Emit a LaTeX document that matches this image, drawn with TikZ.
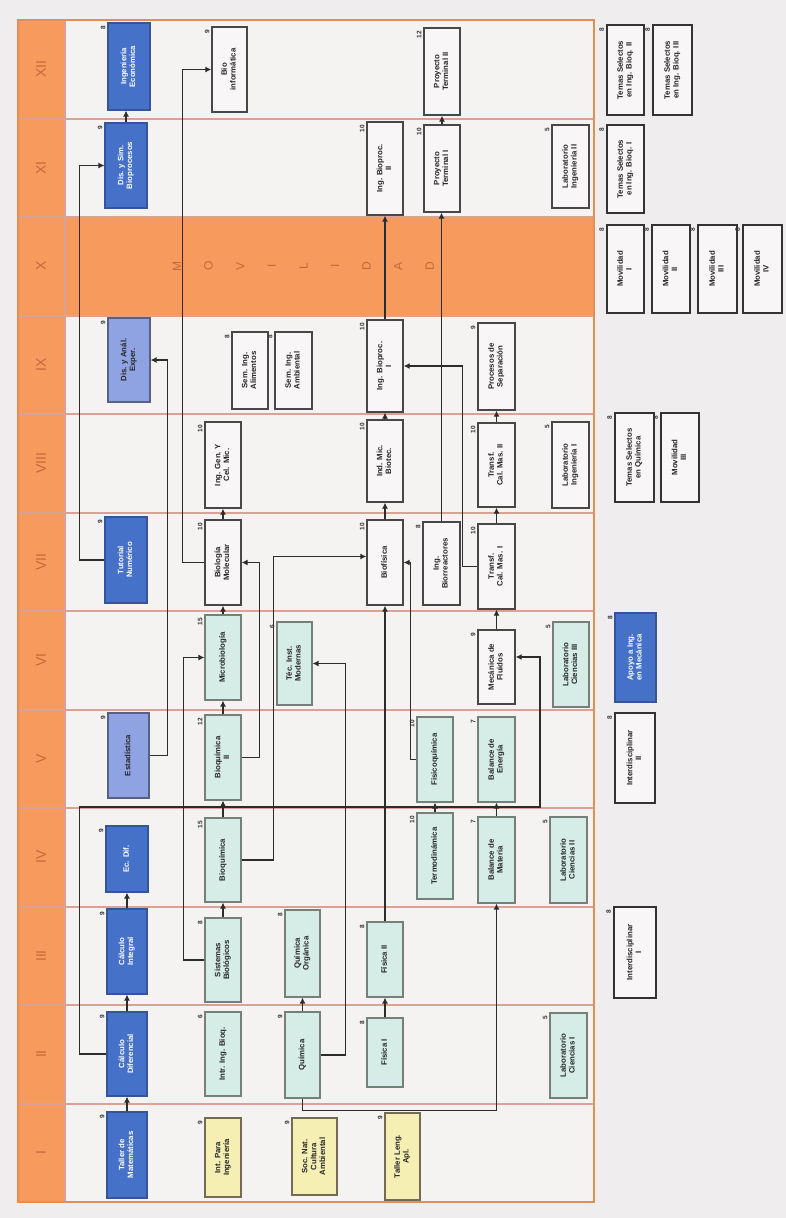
\documentclass[tikz,border=0pt]{standalone}
\usepackage{fontspec}
\setmainfont{Liberation Sans}
\usetikzlibrary{arrows.meta,calc}
\definecolor{bgc}{HTML}{EFEDED}
\definecolor{paper}{HTML}{F5F2F2}
\definecolor{orng}{HTML}{F69A5E}
\definecolor{orngd}{HTML}{C46A3A}
\definecolor{sepc}{HTML}{D9A294}
\definecolor{dblue}{HTML}{4571C9}
\definecolor{lblue}{HTML}{8FA2E2}
\definecolor{cyanb}{HTML}{D6ECE6}
\definecolor{yelb}{HTML}{F6EFB4}
\definecolor{whb}{HTML}{F8F6F6}
\definecolor{lnc}{HTML}{2C2C2C}
\definecolor{cyanl}{HTML}{76807A}
\definecolor{yell}{HTML}{736B55}
\newcommand\rt[1]{\rotatebox{90}{\begin{tabular}{@{}c@{}}#1\end{tabular}}}
\newcommand\bx[8]{%
  \node[box,#6,minimum width={(#4-#2)*1pt},minimum height={(#5-#3)*1pt}] (#1) at ({(#2+#4)/2},{(#3+#5)/2}) {\rt{#7}};
  \node[numl] (#1n) at ([xshift=-1.5pt,yshift=-3pt]#1.north west) {\rotatebox{90}{#8}};}
\tikzset{
  box/.style={rectangle, inner sep=1pt, line width=1.1pt, font=\fontsize{7.8}{8.8}\selectfont\bfseries},
  blueb/.style={fill=dblue, draw=dblue!75!black, text=white},
  perib/.style={fill=lblue, draw=lblue!60!black, text=black!85},
  cyanbx/.style={fill=cyanb, draw=cyanl, text=black!85},
  yelbx/.style={fill=yelb, draw=yell, text=black!85},
  whbx/.style={fill=whb, draw=black!72, line width=1.3pt, text=black!85},
  elect/.style={fill=whb, draw=black!80, line width=2.2pt, text=black!85},
  numl/.style={anchor=north east, inner sep=0.3pt, font=\fontsize{6.5}{6.5}\selectfont\bfseries, text=black!80},
  conn/.style={draw=lnc, line width=1.7pt, -{Latex[length=6pt,width=6pt]}},
  sepl/.style={draw=sepc, line width=2pt},
  romn/.style={font=\fontsize{14}{14}\selectfont, text=orngd, inner sep=0pt},
  movl/.style={font=\fontsize{12}{12}\selectfont, text=orngd, inner sep=0pt}
}
\begin{document}
\begin{tikzpicture}[x=1pt,y=-1pt]
\useasboundingbox (0,0) rectangle (786,1218);
\fill[bgc] (0,0) rectangle (786,1218);
\fill[paper] (18,20) rectangle (594,1202);
\fill[orng] (18,20) rectangle (65,1202);
\fill[orng] (65,217) rectangle (594,315.5);
\foreach \yy in {118.5,217,315.5,414,512.5,611,709.5,808,906.5,1005,1103.5}
  \draw[sepl] (18,\yy) -- (594,\yy);
\draw[sepl] (65,20) -- (65,1202);
\draw[orng!92!black, line width=2.2pt] (18,20) rectangle (594,1202);
\foreach \r/\yy [count=\i] in {I/1153,II/1054,III/956,IV/857,V/759,VI/660,VII/562,VIII/463,IX/365,X/266,XI/168,XII/69}
  \node[romn] (rom\i) at (41,\yy) {\rotatebox{90}{\r}};
\foreach \l [count=\i] in {M,O,V,I,L,I,D,A,D}
  \node[movl] (mv\i) at ({177+(\i-1)*31.6},266) {\rotatebox{90}{\l}};
% Row XII
\bx{IngEcon}{108}{23}{150}{110}{blueb}{Ingeniería\\Económica}{8}
\bx{Bioinf}{212}{27}{247}{112}{whbx}{Bio\\informática}{9}
\bx{ProyII}{424}{28}{460}{115}{whbx}{Proyecto\\Terminal II}{12}
% Row XI
\bx{DisSim}{105}{123}{147}{208}{blueb}{Dis. y Sim.\\Bioprocesos}{9}
\bx{IngBioII}{367}{122}{403}{215}{whbx}{Ing. Bioproc.\\II}{10}
\bx{ProyI}{424}{125}{460}{212}{whbx}{Proyecto\\Terminal I}{10}
\bx{LabI2}{552}{125}{589}{208}{whbx}{Laboratorio\\Ingeniería II}{5}
% Row IX
\bx{DisAnal}{108}{318}{150}{402}{perib}{Dis. y Anál.\\Exper.}{9}
\bx{Sem1}{232}{332}{268}{409}{whbx}{Sem. Ing.\\Alimentos}{8}
\bx{Sem2}{275}{332}{312}{409}{whbx}{Sem. Ing.\\Ambiental}{8}
\bx{IngBioI}{367}{320}{403}{412}{whbx}{Ing. Bioproc.\\I}{10}
\bx{ProcSep}{478}{323}{515}{410}{whbx}{Procesos de\\Separación}{9}
% Row VIII
\bx{IngGen}{205}{422}{241}{508}{whbx}{Ing. Gen. Y\\Cel. Mic.}{10}
\bx{IndMic}{367}{420}{403}{502}{whbx}{Ind. Mic.\\Biotec.}{10}
\bx{TransfII}{478}{423}{515}{507}{whbx}{Transf.\\Cal. Mas. II}{10}
\bx{LabI1}{552}{422}{589}{508}{whbx}{Laboratorio\\Ingeniería I}{5}
% Row VII
\bx{Tutorial}{105}{517}{147}{603}{blueb}{Tutorial\\Numérico}{9}
\bx{BiolMol}{205}{520}{241}{605}{whbx}{Biología\\Molecular}{10}
\bx{Biofis}{367}{520}{403}{605}{whbx}{Biofísica}{10}
\bx{IngBiorr}{423}{522}{460}{605}{whbx}{Ing.\\Biorreactores}{8}
\bx{TransfI}{478}{524}{515}{609}{whbx}{Transf.\\Cal. Mas. I}{10}
% Row VI
\bx{Microbio}{205}{615}{241}{700}{cyanbx}{Microbiología}{15}
\bx{Tecnicas}{277}{622}{312}{705}{cyanbx}{Téc. Inst.\\Modernas}{6}
\bx{MecFl}{478}{630}{515}{704}{whbx}{Mecánica de\\Fluidos}{9}
\bx{LabC3}{553}{622}{589}{707}{cyanbx}{Laboratorio\\Ciencias III}{5}
% Row V
\bx{Estad}{108}{713}{149}{798}{perib}{Estadística}{9}
\bx{BioqII}{205}{715}{241}{800}{cyanbx}{Bioquímica\\II}{12}
\bx{Fisicoq}{417}{717}{453}{802}{cyanbx}{Fisicoquímica}{10}
\bx{BalEn}{478}{717}{515}{802}{cyanbx}{Balance de\\Energía}{7}
% Row IV
\bx{EcDif}{106}{826}{148}{892}{blueb}{Ec. Dif.}{9}
\bx{Bioquim}{205}{818}{241}{902}{cyanbx}{Bioquímica}{15}
\bx{Termo}{417}{813}{453}{899}{cyanbx}{Termodinámica}{10}
\bx{BalMat}{478}{817}{515}{903}{cyanbx}{Balance de\\Materia}{7}
\bx{LabC2}{550}{817}{587}{903}{cyanbx}{Laboratorio\\Ciencias II}{5}
% Row III
\bx{CalcInt}{107}{909}{147}{994}{blueb}{Cálculo\\Integral}{9}
\bx{SistBiol}{205}{918}{241}{1002}{cyanbx}{Sistemas\\Biológicos}{8}
\bx{QuimOrg}{285}{910}{320}{997}{cyanbx}{Química\\Orgánica}{8}
\bx{Fisica2}{367}{922}{403}{997}{cyanbx}{Física II}{8}
% Row II
\bx{CalcDif}{107}{1012}{147}{1096}{blueb}{Cálculo\\Diferencial}{9}
\bx{IntrIng}{205}{1012}{241}{1096}{cyanbx}{Intr. Ing. Bioq.}{6}
\bx{Quimica}{285}{1012}{320}{1098}{cyanbx}{Química}{9}
\bx{Fisica1}{367}{1018}{403}{1087}{cyanbx}{Física I}{8}
\bx{LabC1}{550}{1013}{587}{1098}{cyanbx}{Laboratorio\\Ciencias I}{5}
% Row I
\bx{TallerMat}{107}{1112}{147}{1198}{blueb}{Taller de\\Matemáticas}{9}
\bx{IntPara}{205}{1118}{241}{1197}{yelbx}{Int. Para\\Ingeniería}{9}
\bx{SocNat}{292}{1118}{337}{1195}{yelbx}{Soc. Nat.\\Cultura\\Ambiental}{9}
\bx{TallerLeng}{385}{1113}{420}{1200}{yelbx}{Taller Leng.\\Apl.}{9}
% Electives
\bx{TSII}{607}{25}{644}{115}{elect}{Temas Selectos\\en Ing. Bioq. II}{8}
\bx{TSIII}{653}{25}{692}{115}{elect}{Temas Selectos\\en Ing. Bioq. III}{8}
\bx{TSI}{607}{125}{644}{213}{elect}{Temas Selectos\\en Ing. Bioq. I}{8}
\bx{MovI}{607}{225}{644}{313}{elect}{Movilidad\\I}{8}
\bx{MovII}{652}{225}{690}{313}{elect}{Movilidad\\II}{8}
\bx{MovIII}{698}{225}{737}{313}{elect}{Movilidad\\III}{8}
\bx{MovIV}{743}{225}{782}{313}{elect}{Movilidad\\IV}{8}
\bx{TSQ}{615}{413}{654}{502}{elect}{Temas Selectos\\en Química}{8}
\bx{MovIIIb}{661}{413}{699}{502}{elect}{Movilidad\\III}{8}
\bx{Apoyo}{615}{613}{656}{702}{blueb}{Apoyo a Ing.\\en Mecánica}{8}
\bx{InterII}{615}{713}{655}{803}{elect}{Interdisciplinar\\II}{8}
\bx{InterI}{614}{907}{656}{998}{elect}{Interdisciplinar\\I}{8}
% Straight connectors
\foreach \a/\b in {TallerMat/CalcDif,CalcDif/CalcInt,CalcInt/EcDif,DisSim/IngEcon,
  SistBiol/Bioquim,Bioquim/BioqII,BioqII/Microbio,Microbio/BiolMol,BiolMol/IngGen,
  Quimica/QuimOrg,Fisica1/Fisica2,Fisica2/Biofis,Biofis/IndMic,IndMic/IngBioI,IngBioI/IngBioII,
  Termo/Fisicoq,BalMat/BalEn,MecFl/TransfI,TransfI/TransfII,TransfII/ProcSep,IngBiorr/ProyI,ProyI/ProyII}
  \draw[conn] (\a.north) -- (\a.north |- \b.south);
% Routed connectors
\draw[conn] (Tutorial.west) -- ++(-25,0) |- (DisSim.west);
\draw[conn] (CalcDif.west) -- ++(-27,0) |- (540,807) |- ($(MecFl.east)+(0,-10)$);
\draw[conn] (Estad.east) -- ++(18,0) |- (DisAnal.east);
\draw[conn] (SistBiol.west) -- ++(-21,0) |- (Microbio.west);
\draw[conn] (BioqII.east) -- ++(18,0) |- (BiolMol.east);
\draw[conn] (Bioquim.east) -- ++(32,0) |- ($(Biofis.west)+(0,-6)$);
\draw[conn] (BiolMol.west) -- ++(-22,0) |- (Bioinf.west);
\draw[conn] (Quimica.east) -- ++(25,0) |- (Tecnicas.east);
\draw[conn] (Quimica.south) -- ++(0,12) -| (BalMat.south);
\draw[conn] (Fisicoq.west) -- ++(-6,0) |- (Biofis.east);
\draw[conn] (TransfI.west) -- ++(-15,0) |- (IngBioI.east);
\end{tikzpicture}
\end{document}
